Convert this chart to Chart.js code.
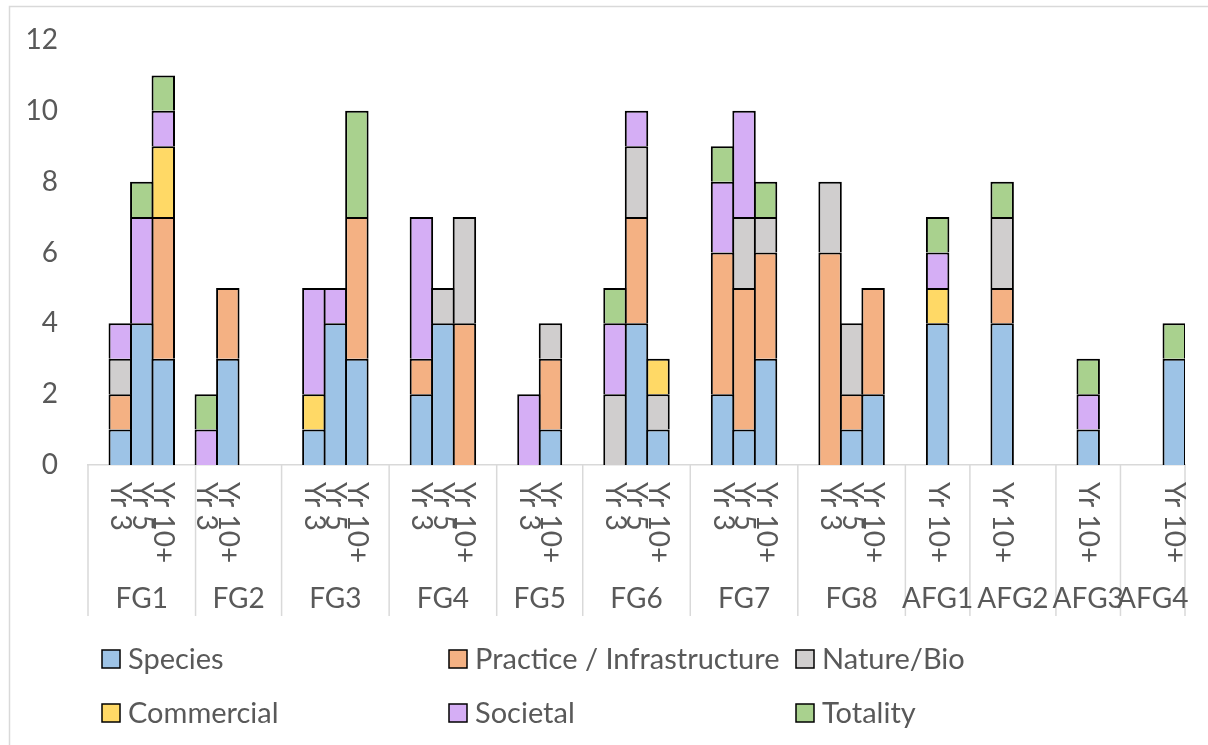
<!DOCTYPE html>
<html>
<head>
<meta charset="utf-8">
<script src="https://cdn.jsdelivr.net/npm/chart.js@4.4.1/dist/chart.umd.min.js"></script>
<style>
  html, body { margin: 0; padding: 0; background: #ffffff; }
  #wrap { width: 1208px; height: 745px; position: relative; }
</style>
</head>
<body>
<div id="wrap"><canvas id="chart" width="1208" height="745"></canvas></div>
<script>
// Focus groups and the slots under each one ('' = empty spacer slot)
const groupNames = ['FG1', 'FG2', 'FG3', 'FG4', 'FG5', 'FG6', 'FG7', 'FG8', 'AFG1', 'AFG2', 'AFG3', 'AFG4'];
const groupSlots = [
  ['', 'Yr 3', 'Yr 5', 'Yr 10+', ''],
  ['Yr 3', 'Yr 10+', '', ''],
  ['', 'Yr 3', 'Yr 5', 'Yr 10+', ''],
  ['', 'Yr 3', 'Yr 5', 'Yr 10+', ''],
  ['', 'Yr 3', 'Yr 10+', ''],
  ['', 'Yr 3', 'Yr 5', 'Yr 10+', ''],
  ['', 'Yr 3', 'Yr 5', 'Yr 10+', ''],
  ['', 'Yr 3', 'Yr 5', 'Yr 10+', ''],
  ['', 'Yr 10+', ''],
  ['', 'Yr 10+', '', ''],
  ['', 'Yr 10+', ''],
  ['', '', 'Yr 10+']
];

// Counts per bar, in bar order (FG1 Yr 3, FG1 Yr 5, FG1 Yr 10+, FG2 Yr 3, ...)
const seriesNames = ['Species', 'Practice / Infrastructure', 'Nature/Bio', 'Commercial', 'Societal', 'Totality'];
const species    = [1, 4, 3,  0, 3,  1, 4, 3,  2, 4, 0,  0, 1,  0, 4, 1,  2, 1, 3,  0, 1, 2,  4, 4, 1, 3];
const practice   = [1, 0, 4,  0, 2,  0, 0, 4,  1, 0, 4,  0, 2,  0, 3, 0,  4, 4, 3,  6, 1, 3,  0, 1, 0, 0];
const nature     = [1, 0, 0,  0, 0,  0, 0, 0,  0, 1, 3,  0, 1,  2, 2, 1,  0, 2, 1,  2, 2, 0,  0, 2, 0, 0];
const commercial = [0, 0, 2,  0, 0,  1, 0, 0,  0, 0, 0,  0, 0,  0, 0, 1,  0, 0, 0,  0, 0, 0,  1, 0, 0, 0];
const societal   = [1, 3, 1,  1, 0,  3, 1, 0,  4, 0, 0,  2, 0,  2, 1, 0,  2, 3, 0,  0, 0, 0,  1, 0, 1, 0];
const totality   = [0, 1, 1,  1, 0,  0, 0, 3,  0, 0, 0,  0, 0,  1, 0, 0,  1, 0, 1,  0, 0, 0,  1, 1, 1, 1];

const yMin = 0, yMax = 12, yStep = 2;

const seriesColors = ['#9DC3E6', '#F4B183', '#D0CECE', '#FFD966', '#D5AEF5', '#A9D18E'];
const textColor = '#595959';
const lineColor = '#D9D9D9';
const fontFamily = 'Lato, "Open Sans", sans-serif';
const axisFontSize = 28;
const legendFontSize = 29;

// Flatten the slots into one category list and spread the bar values over it
const slotLabels = groupSlots.flat();
function spread(values) {
  let k = 0;
  return slotLabels.map(lbl => {
    if (lbl === '') return null;
    const v = values[k++];
    return v === 0 ? null : v;
  });
}
const seriesValues = [species, practice, nature, commercial, societal, totality];

const datasets = seriesNames.map((name, i) => ({
  label: name,
  data: spread(seriesValues[i]),
  backgroundColor: seriesColors[i],
  borderColor: '#000000',
  borderWidth: 2,
  borderSkipped: 'start',
  categoryPercentage: 1,
  barPercentage: 1.09
}));

// Frame, grouped category axis and legend
const decorations = {
  id: 'decorations',
  beforeDraw(chart) {
    const ctx = chart.ctx;
    ctx.save();
    ctx.fillStyle = '#ffffff';
    ctx.fillRect(0, 0, chart.width, chart.height);
    ctx.strokeStyle = lineColor;
    ctx.lineWidth = 1.5;
    ctx.strokeRect(9.5, 6.5, chart.width + 20, chart.height + 20);
    ctx.restore();
  },
  afterDraw(chart) {
    const ctx = chart.ctx;
    const x = chart.scales.x;
    const area = chart.chartArea;
    const half = (x.getPixelForValue(1) - x.getPixelForValue(0)) / 2;
    ctx.save();

    // group separators
    ctx.strokeStyle = lineColor;
    ctx.lineWidth = 1.5;
    let start = 0;
    const bounds = [];
    groupSlots.forEach(slots => {
      bounds.push([start, start + slots.length - 1]);
      start += slots.length;
    });
    const sepBottom = area.bottom + 151;
    bounds.forEach(([a, b], gi) => {
      const left = x.getPixelForValue(a) - half;
      const right = x.getPixelForValue(b) + half;
      ctx.beginPath();
      ctx.moveTo(left, area.bottom);
      ctx.lineTo(left, sepBottom);
      if (gi === bounds.length - 1) {
        ctx.moveTo(right, area.bottom);
        ctx.lineTo(right, sepBottom);
      }
      ctx.stroke();
    });

    // year labels, rotated to read downwards
    ctx.fillStyle = textColor;
    ctx.font = `${axisFontSize}px ${fontFamily}`;
    ctx.textAlign = 'left';
    ctx.textBaseline = 'middle';
    slotLabels.forEach((lbl, i) => {
      if (!lbl) return;
      ctx.save();
      ctx.translate(x.getPixelForValue(i), area.bottom + 17);
      ctx.rotate(Math.PI / 2);
      ctx.fillText(lbl, 0, 0);
      ctx.restore();
    });

    // group names
    ctx.textAlign = 'center';
    ctx.textBaseline = 'alphabetic';
    bounds.forEach(([a, b], gi) => {
      const cx = (x.getPixelForValue(a) + x.getPixelForValue(b)) / 2;
      ctx.fillText(groupNames[gi], cx, area.bottom + 143);
    });

    // legend in three columns
    const colX = [102, 449, 796];
    const rowY = [659, 713];
    const box = 18;
    ctx.font = `${legendFontSize}px ${fontFamily}`;
    ctx.textAlign = 'left';
    ctx.textBaseline = 'middle';
    chart.data.datasets.forEach((ds, i) => {
      const cx = colX[i % 3];
      const cy = rowY[Math.floor(i / 3)];
      ctx.fillStyle = ds.backgroundColor;
      ctx.fillRect(cx, cy - box / 2, box, box);
      ctx.strokeStyle = '#000000';
      ctx.lineWidth = 1.5;
      ctx.strokeRect(cx, cy - box / 2, box, box);
      ctx.fillStyle = textColor;
      ctx.fillText(ds.label, cx + box + 8, cy + 1);
    });
    ctx.restore();
  }
};

new Chart(document.getElementById('chart'), {
  type: 'bar',
  data: { labels: slotLabels, datasets },
  options: {
    responsive: false,
    devicePixelRatio: 1,
    animation: false,
    layout: { padding: { left: 10, top: 40, right: 23, bottom: 0 } },
    plugins: { legend: { display: false }, tooltip: { enabled: false } },
    scales: {
      x: {
        stacked: true,
        grid: { display: false, drawTicks: false },
        ticks: { display: false },
        border: { display: true, color: lineColor, width: 1.5 },
        afterFit(scale) { scale.height = 280; }
      },
      y: {
        stacked: true,
        min: yMin,
        max: yMax,
        ticks: {
          stepSize: yStep,
          padding: 30,
          color: textColor,
          font: { family: fontFamily, size: axisFontSize }
        },
        grid: { display: false, drawTicks: false },
        border: { display: false },
        afterFit(scale) {
          scale.width = 78;
          scale.paddingTop = 0;
          scale.paddingBottom = 0;
        }
      }
    }
  },
  plugins: [decorations]
});
</script>
</body>
</html>
